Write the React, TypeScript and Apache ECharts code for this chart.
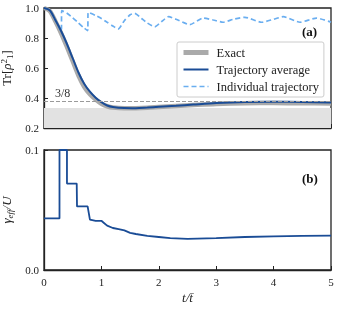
import React, { useEffect, useRef } from "react";
import * as echarts from "echarts";

const exactT = [0, 0.1, 0.2, 0.3, 0.4, 0.5, 0.6, 0.7, 0.8, 0.9, 1.0, 1.1, 1.2, 1.4, 1.6, 1.8, 2.0, 2.3, 2.6, 3.0, 3.5, 4.0, 4.5, 5.0];
const exactV = [1.0, 0.98, 0.91, 0.83, 0.74, 0.645, 0.55, 0.475, 0.425, 0.39, 0.362, 0.345, 0.336, 0.331, 0.332, 0.335, 0.34, 0.347, 0.353, 0.36, 0.365, 0.366, 0.365, 0.364];
const avgV = [1.0, 0.985, 0.918, 0.845, 0.76, 0.665, 0.57, 0.495, 0.442, 0.402, 0.372, 0.35, 0.34, 0.333, 0.332, 0.336, 0.341, 0.348, 0.356, 0.366, 0.373, 0.375, 0.373, 0.37];

const indivT = [0, 0.1, 0.2, 0.3, 0.31, 0.4, 0.5, 0.6, 0.7, 0.76, 0.77, 0.9, 1.0, 1.1, 1.2, 1.29, 1.4, 1.5, 1.58, 1.7, 1.8, 1.93, 2.05, 2.17, 2.3, 2.54, 2.77, 2.95, 3.12, 3.3, 3.5, 3.79, 4.0, 4.17, 4.46, 4.75, 5.0];
const indivV = [1.0, 0.985, 0.918, 0.845, 0.982, 0.965, 0.935, 0.9, 0.866, 0.849, 0.971, 0.95, 0.93, 0.905, 0.88, 0.86, 0.915, 0.955, 0.964, 0.93, 0.9, 0.875, 0.91, 0.942, 0.925, 0.889, 0.933, 0.92, 0.905, 0.925, 0.938, 0.905, 0.925, 0.942, 0.905, 0.933, 0.905];

const gammaT = [0, 0.27, 0.27, 0.4, 0.4, 0.57, 0.575, 0.76, 0.8, 0.9, 1.0, 1.05, 1.1, 1.2, 1.3, 1.4, 1.5, 1.6, 1.8, 2.0, 2.2, 2.5, 3.0, 3.5, 4.0, 4.5, 5.0];
const gammaV = [0.043, 0.043, 0.1, 0.1, 0.072, 0.072, 0.053, 0.053, 0.042, 0.041, 0.041, 0.039, 0.037, 0.035, 0.034, 0.033, 0.031, 0.03, 0.0285, 0.0275, 0.0265, 0.026, 0.0265, 0.0275, 0.028, 0.0285, 0.0286];

const topTicks = [0.2, 0.4, 0.6, 0.8, 1.0];
const bottomTicks = [0.0, 0.1];
const threeEighths = 0.375;
const bandTop = 1 / 3;

const zip = (xs: number[], ys: number[]) => xs.map((x, i) => [x, ys[i]]);

const FONT = "Liberation Serif";
const DARK = "#1a4c96";
const LIGHT = "#6aaef0";
const GRAY = "#aaaaaa";

export default function App() {
  const ref = useRef<HTMLDivElement>(null);
  useEffect(() => {
    const chart = echarts.init(ref.current!, null, { renderer: "svg" });
    const axisLine = { show: true, lineStyle: { color: "#222", width: 1.3 } };
    const axisTick = { show: true, inside: true, length: 4, lineStyle: { color: "#222", width: 1 } };
    const lbl = { color: "#222", fontFamily: FONT, fontSize: 11 };
    const gridBase = { left: 44, width: 287, height: 120, show: true, borderColor: "#222", borderWidth: 1.3, backgroundColor: "transparent", containLabel: false, outerBoundsMode: "none" };
    chart.setOption({
      animation: false,
      textStyle: { fontFamily: FONT },
      grid: [
        { ...gridBase, top: 8 },
        { ...gridBase, top: 150 },
      ],
      legend: {
        data: [
          { name: "Exact", lineStyle: { width: 5, color: GRAY } },
          { name: "Trajectory average", lineStyle: { width: 2, color: DARK } },
          { name: "Individual trajectory", lineStyle: { width: 1.7, color: LIGHT, type: [5, 3] } },
        ],
        orient: "vertical",
        left: 177,
        top: 42,
        itemWidth: 25,
        itemHeight: 10,
        itemGap: 4,
        padding: [4, 5, 4, 4],
        borderColor: "#cccccc",
        borderWidth: 1,
        borderRadius: 2,
        backgroundColor: "#ffffff",
        itemStyle: { opacity: 0 },
        textStyle: { fontFamily: FONT, fontSize: 12.5, color: "#222", padding: [0, 0, 0, 3], lineHeight: 12 },
      },
      xAxis: [
        { type: "value", gridIndex: 0, min: 0, max: 5, interval: 1, axisLine, axisTick, axisLabel: { show: false }, splitLine: { show: false } },
        {
          type: "value", gridIndex: 1, min: 0, max: 5, interval: 1, axisLine, axisTick,
          axisLabel: { ...lbl, margin: 6 }, splitLine: { show: false },
          name: "t/t\u0304", nameLocation: "middle", nameGap: 21,
          nameTextStyle: { fontFamily: FONT, fontSize: 13, fontStyle: "italic", color: "#222" },
        },
      ],
      yAxis: [
        {
          type: "value", gridIndex: 0, min: 0.2, max: 1.0, interval: 0.2, axisLine, axisTick,
          axisLabel: { ...lbl, margin: 5, formatter: (v: number) => (topTicks.includes(Math.round(v * 10) / 10) ? v.toFixed(1) : "") },
          splitLine: { show: false },
          name: "{g|Tr[}{i|ρ}{sup|2}{sub|1}{g|]}", nameLocation: "middle", nameGap: 21, nameRotate: 90,
          nameTextStyle: {
            fontFamily: FONT, color: "#222",
            rich: {
              g: { fontFamily: FONT, fontSize: 13, color: "#222" },
              i: { fontFamily: FONT, fontSize: 13, fontStyle: "italic", color: "#222" },
              sup: { fontFamily: FONT, fontSize: 9, color: "#222", verticalAlign: "top", padding: [0, 0, 6, 0] },
              sub: { fontFamily: FONT, fontSize: 9, color: "#222", verticalAlign: "bottom", padding: [6, 0, 0, 0] },
            },
          },
        },
        {
          type: "value", gridIndex: 1, min: 0, max: 0.1, interval: 0.1, axisLine, axisTick,
          axisLabel: { ...lbl, margin: 5, formatter: (v: number) => (bottomTicks.includes(Math.round(v * 10) / 10) ? v.toFixed(1) : "") },
          splitLine: { show: false },
          name: "{g|γ}{s|eff}{g|/U}", nameLocation: "middle", nameGap: 21, nameRotate: 90,
          nameTextStyle: {
            fontFamily: FONT, color: "#222",
            rich: {
              g: { fontFamily: FONT, fontSize: 13, fontStyle: "italic", color: "#222" },
              s: { fontFamily: FONT, fontSize: 9, fontStyle: "italic", color: "#222", verticalAlign: "bottom", padding: [6, 0, 0, 0] },
            },
          },
        },
      ],
      series: [
        {
          name: "Exact", type: "line", xAxisIndex: 0, yAxisIndex: 0, symbol: "none", smooth: 0.3,
          data: zip(exactT, exactV), lineStyle: { color: GRAY, width: 4.5 }, itemStyle: { color: GRAY },
          markArea: { silent: true, itemStyle: { color: "#e2e2e2" }, data: [[{ xAxis: 0, yAxis: 0.2 }, { xAxis: 5, yAxis: bandTop }]] },
          markLine: {
            silent: true, symbol: "none",
            lineStyle: { color: "#9a9a9a", type: [4, 2], width: 1.2 },
            label: { show: true, position: "insideStartTop", formatter: "3/8", fontFamily: FONT, fontSize: 12, color: "#333", distance: [11, 2] },
            data: [{ yAxis: threeEighths }],
          },
          z: 2,
        },
        {
          name: "Individual trajectory", type: "line", xAxisIndex: 0, yAxisIndex: 0, symbol: "none", smooth: 0.2,
          data: zip(indivT, indivV), lineStyle: { color: LIGHT, width: 1.7, type: [5, 3] }, itemStyle: { color: LIGHT }, z: 3,
        },
        {
          name: "Trajectory average", type: "line", xAxisIndex: 0, yAxisIndex: 0, symbol: "none", smooth: 0.3,
          data: zip(exactT, avgV), lineStyle: { color: DARK, width: 2 }, itemStyle: { color: DARK }, z: 4,
        },
        {
          name: "gamma", type: "line", xAxisIndex: 1, yAxisIndex: 1, symbol: "none",
          data: zip(gammaT, gammaV), lineStyle: { color: DARK, width: 1.8 }, itemStyle: { color: DARK },
        },
      ],
      graphic: [
        { type: "text", left: 302, top: 25, style: { text: "(a)", font: `bold 13px '${FONT}'`, fill: "#111" } },
        { type: "text", left: 302, top: 172, style: { text: "(b)", font: `bold 13px '${FONT}'`, fill: "#111" } },
      ],
    });
    return () => chart.dispose();
  }, []);
  return <div ref={ref} style={{ position: "fixed", left: 0, top: 0, width: 338, height: 310 }} />;
}
